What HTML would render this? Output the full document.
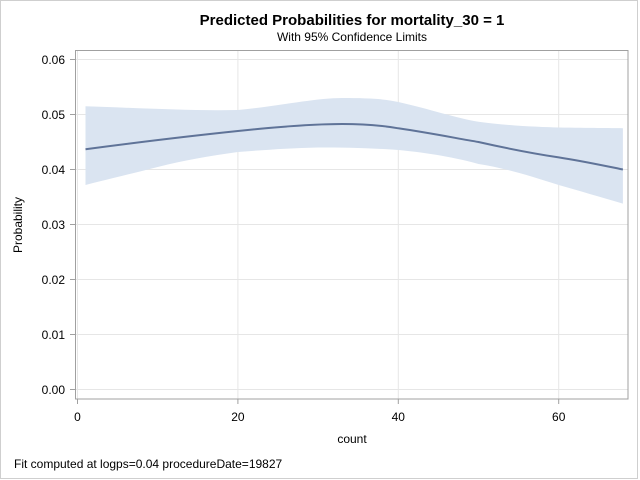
<!DOCTYPE html>
<html><head><style>
body{margin:0;background:#fff;}
svg{display:block;font-family:"Liberation Sans",Arial,sans-serif;}
</style></head><body>
<svg width="640" height="480" viewBox="0 0 640 480">
<rect x="0.5" y="0.5" width="637" height="478" fill="#fff" stroke="#cfcfcf"/>
<text x="352" y="25" text-anchor="middle" font-size="15" font-weight="bold">Predicted Probabilities for mortality_30 = 1</text>
<text x="352" y="41" text-anchor="middle" font-size="12">With 95% Confidence Limits</text>
<g stroke="#e6e6e6" stroke-width="1">
<line x1="76" y1="59.5" x2="628" y2="59.5"/><line x1="76" y1="114.5" x2="628" y2="114.5"/>
<line x1="76" y1="169.5" x2="628" y2="169.5"/><line x1="76" y1="224.5" x2="628" y2="224.5"/>
<line x1="76" y1="279.5" x2="628" y2="279.5"/><line x1="76" y1="334.5" x2="628" y2="334.5"/>
<line x1="76" y1="389.5" x2="628" y2="389.5"/>
<line x1="77.5" y1="51" x2="77.5" y2="399"/><line x1="237.9" y1="51" x2="237.9" y2="399"/>
<line x1="398.3" y1="51" x2="398.3" y2="399"/><line x1="558.7" y1="51" x2="558.7" y2="399"/>
</g>
<path d="M85.5,106.3 C140,108 190,111 237.9,110 C280,106 315,98 342.2,98 C370,98 385,99 398.3,102 C430,109 455,118 478.5,121.7 C510,126 540,127 558.7,127.5 C590,128 610,128 622.9,128.2 L622.9,203.6 C600,197 580,191 558.7,185 C530,176 505,168 478.5,164 C450,156 420,152 398.3,150 C370,148 345,147.5 318.1,147.5 C290,148 265,150 237.9,152 C210,156 185,160 157.7,167 C130,174 105,180 85.5,185 Z" fill="#dae4f1"/>
<path d="M85.5,149.2 C140,142 190,136 237.9,131 C285,126 315,124 342.2,124 C365,124 385,126 398.3,128.3 C430,133 455,138 478.5,142 C505,148 530,153 558.7,157.4 C585,161.5 605,166 622.9,169.5" fill="none" stroke="#5f7398" stroke-width="2"/>
<rect x="75.5" y="50.5" width="552.5" height="348.5" fill="none" stroke="#a0a0a0"/>
<g stroke="#a0a0a0">
<line x1="70" y1="59.5" x2="75" y2="59.5"/><line x1="70" y1="114.5" x2="75" y2="114.5"/>
<line x1="70" y1="169.5" x2="75" y2="169.5"/><line x1="70" y1="224.5" x2="75" y2="224.5"/>
<line x1="70" y1="279.5" x2="75" y2="279.5"/><line x1="70" y1="334.5" x2="75" y2="334.5"/>
<line x1="70" y1="389.5" x2="75" y2="389.5"/>
<line x1="77.5" y1="399" x2="77.5" y2="404"/><line x1="237.9" y1="399" x2="237.9" y2="404"/>
<line x1="398.3" y1="399" x2="398.3" y2="404"/><line x1="558.7" y1="399" x2="558.7" y2="404"/>
</g>
<g font-size="12" text-anchor="end" fill="#000">
<text x="65" y="64">0.06</text><text x="65" y="119">0.05</text><text x="65" y="174">0.04</text>
<text x="65" y="229">0.03</text><text x="65" y="284">0.02</text><text x="65" y="339">0.01</text>
<text x="65" y="394">0.00</text>
</g>
<g font-size="12" text-anchor="middle">
<text x="77.5" y="421">0</text><text x="237.9" y="421">20</text><text x="398.3" y="421">40</text><text x="558.7" y="421">60</text>
<text x="352" y="443">count</text>
</g>
<text x="22" y="225" font-size="12" text-anchor="middle" transform="rotate(-90 22 225)">Probability</text>
<text x="14" y="468" font-size="12">Fit computed at logps=0.04 procedureDate=19827</text>
</svg>
</body></html>
